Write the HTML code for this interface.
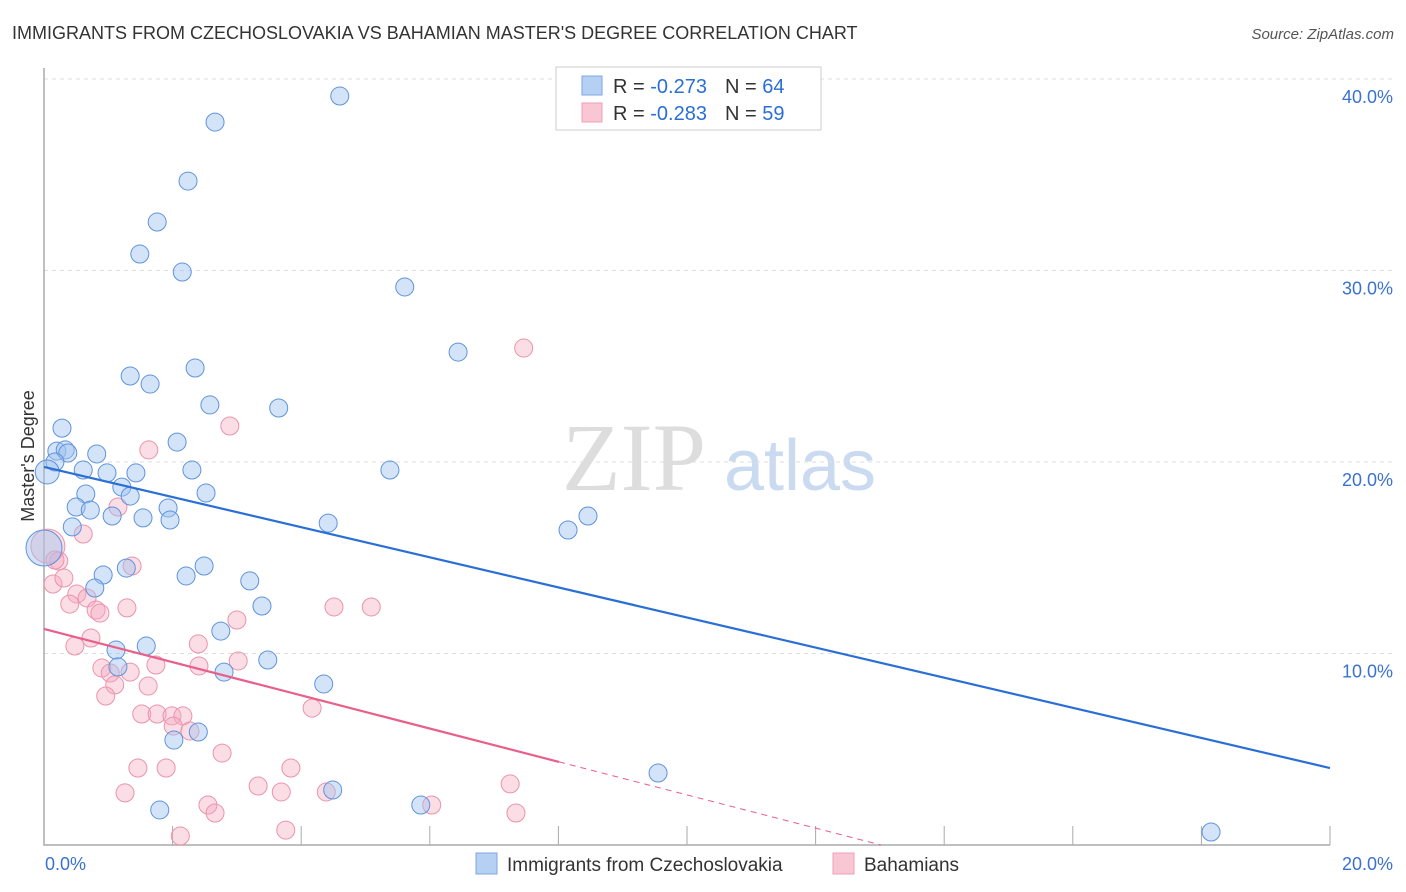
<!DOCTYPE html>
<html><head><meta charset="utf-8"><style>
body{margin:0;background:#fff;font-family:"Liberation Sans",sans-serif;}
svg{display:block}
</style></head><body>
<svg id="chart" width="1406" height="892">
<text x="12" y="39" font-size="18" fill="#333">IMMIGRANTS FROM CZECHOSLOVAKIA VS BAHAMIAN MASTER'S DEGREE CORRELATION CHART</text>
<text x="1394" y="39" font-size="15" fill="#555" font-style="italic" text-anchor="end">Source: ZipAtlas.com</text>
<text x="634" y="490" font-size="96" fill="#ddd" font-family="Liberation Serif,serif" text-anchor="middle">ZIP</text>
<text x="800" y="490" font-size="72" fill="#c9daf1" text-anchor="middle">atlas</text>
<text transform="translate(34,456) rotate(-90)" font-size="18" fill="#333" text-anchor="middle">Master's Degree</text>
<g id="grid"></g><g id="pts"></g><g id="lines"></g>
<g>
<rect x="556" y="67" width="265" height="63" fill="#fff" stroke="#ccc"/>
<rect x="582" y="76" width="20" height="19" fill="#b5d0f3" stroke="#7ea7e0"/>
<rect x="582" y="103" width="20" height="19" fill="#f9c6d3" stroke="#eea0b6"/>
<text x="613" y="93" font-size="20" fill="#333">R = <tspan fill="#2a6fd6">-0.273</tspan><tspan dx="18" fill="#333">N = </tspan><tspan fill="#2a6fd6">64</tspan></text>
<text x="613" y="120" font-size="20" fill="#333">R = <tspan fill="#2a6fd6">-0.283</tspan><tspan dx="18" fill="#333">N = </tspan><tspan fill="#2a6fd6">59</tspan></text>
</g>
<g>
<rect x="476" y="853" width="21" height="21" fill="#b5d0f3" stroke="#7ea7e0"/>
<text x="507" y="871" font-size="19" fill="#333">Immigrants from Czechoslovakia</text>
<rect x="833" y="853" width="21" height="21" fill="#f9c6d3" stroke="#eea0b6"/>
<text x="864" y="871" font-size="19" fill="#333">Bahamians</text>
</g>
</svg>
<script>
const yTicks=[10,20,30,40];
const yTickLabels=["10.0%","20.0%","30.0%","40.0%"];
const xTickLabels=["0.0%","20.0%"];
const blueX=[4.60,2.66,2.24,1.76,1.49,2.15,5.61,6.44,2.35,1.34,1.65,2.58,3.65,0.28,2.07,0.20,0.33,0.37,0.82,0.17,0.61,0.98,2.30,1.43,5.38,1.21,0.65,1.34,2.52,0.50,0.72,1.93,1.06,1.54,1.96,4.42,8.46,8.15,0.44,1.28,2.49,0.92,2.21,3.20,0.79,3.39,2.75,1.12,1.59,3.48,1.15,2.80,4.35,2.02,2.40,9.55,4.49,5.86,1.80,18.15,0.05,0.0];
const blueY=[39.11,37.75,34.67,32.53,30.86,29.92,29.14,25.74,24.91,24.49,24.07,22.98,22.82,21.77,21.04,20.57,20.63,20.47,20.42,20.00,19.58,19.43,19.58,19.43,19.58,18.69,18.33,18.22,18.38,17.65,17.49,17.60,17.18,17.08,16.97,16.81,17.18,16.45,16.61,14.46,14.57,14.10,14.05,13.79,13.42,12.48,11.17,10.18,10.39,9.66,9.30,9.03,8.41,5.48,5.90,3.76,2.87,2.09,1.83,0.68,19.48,15.51];
const pinkX=[7.46,2.89,1.63,1.15,0.61,0.06,0.23,0.17,0.14,0.31,0.51,0.67,0.40,0.81,1.29,0.87,1.37,3.00,4.51,5.09,0.73,0.48,2.40,1.74,0.90,3.02,1.03,1.34,2.41,1.10,1.62,0.96,4.17,1.52,1.76,1.99,2.16,2.01,2.27,2.77,1.46,1.90,3.84,1.26,3.33,3.69,4.39,6.03,2.55,2.66,7.34,7.25,2.12,3.76];
const pinkY=[25.95,21.88,20.63,17.65,16.24,15.61,14.83,14.88,13.63,13.94,13.11,12.90,12.58,12.27,12.38,12.11,14.57,11.75,12.43,12.43,10.81,10.39,10.50,9.40,9.24,9.61,8.98,9.03,9.35,8.36,8.30,7.78,7.15,6.84,6.84,6.74,6.74,6.21,5.95,4.80,4.02,4.02,4.02,2.72,3.08,2.77,2.77,2.09,2.09,1.67,1.67,3.19,0.47,0.78];
const blueTrend=[19.74,4.02];
const pinkTrend=[11.28,4.34,8.01];
const X0=44,X1=1330,Y0=845,YPER=19.15;
const sx=v=>X0+(v/20)*(X1-X0);
const sy=v=>Y0-v*YPER;
const NS="http://www.w3.org/2000/svg";
function mk(tag,attrs,parent){const e=document.createElementNS(NS,tag);for(const k in attrs)e.setAttribute(k,attrs[k]);parent.appendChild(e);return e;}
const grid=document.getElementById('grid');
yTicks.forEach((t,i)=>{
 const l=mk('line',{x1:X0,x2:1394,y1:sy(t),y2:sy(t),stroke:'#ddd','stroke-dasharray':'4,4'},grid);
 
 
 const tx=mk('text',{x:1393,y:sy(t)+24,'font-size':18,fill:'#3a72d0','text-anchor':'end'},grid);
 tx.textContent=yTickLabels[i];
 
 
});
const ax=mk('path',{d:`M${X0} 68V${Y0}H${X1}`,stroke:'#aaa',fill:'none','stroke-width':1.5},grid);


for(let i=1;i<=10;i++){const x=sx(i*2);const t=mk('line',{x1:x,x2:x,y1:Y0,y2:826,stroke:'#aaa'},grid);
 
 }
[[0,'start',45],[20,'end',1393]].forEach((d,i)=>{const t=mk('text',{x:d[2],y:870,'font-size':18,fill:'#3a72d0','text-anchor':d[1]},grid);t.textContent=xTickLabels[i];
 
 });
const pts=document.getElementById('pts');
pinkX.forEach((x,i)=>{const c=mk('circle',{cx:sx(x),cy:sy(pinkY[i]),r:i==5?17:9,fill:'rgba(245,170,192,0.4)',stroke:'#eb93ac','stroke-width':1},pts);
 
 });
blueX.forEach((x,i)=>{const r=i==blueX.length-1?18:(i==blueX.length-2?12:9);
 const c=mk('circle',{cx:sx(x),cy:sy(blueY[i]),r:r,fill:'rgba(160,196,240,0.45)',stroke:'#5f93dc','stroke-width':1},pts);
 
 });
const lines=document.getElementById('lines');
const bl=mk('line',{x1:sx(0),y1:sy(blueTrend[0]),x2:sx(20),y2:sy(blueTrend[1]),stroke:'#2a6fd6','stroke-width':2.2},lines);


const slope=(pinkTrend[1]-pinkTrend[0])/pinkTrend[2];
const xz=-pinkTrend[0]/slope;
const pl=mk('line',{x1:sx(0),y1:sy(pinkTrend[0]),x2:sx(pinkTrend[2]),y2:sy(pinkTrend[1]),stroke:'#e8608a','stroke-width':2.2},lines);


const pd=mk('line',{x1:sx(pinkTrend[2]),y1:sy(pinkTrend[1]),x2:sx(xz),y2:sy(0),stroke:'#e8608a','stroke-width':1,'stroke-dasharray':'6,5'},lines);


</script>
</body></html>
